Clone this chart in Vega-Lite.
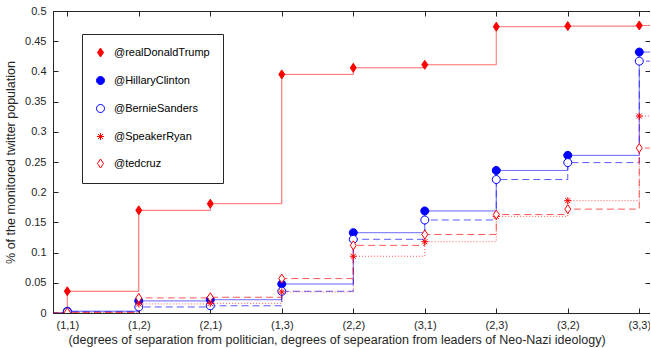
{
  "$schema": "https://vega.github.io/schema/vega-lite/v6.json",
  "autosize": "none",
  "padding": {"left": 53, "top": 11, "right": 0, "bottom": 35},
  "width": 597,
  "height": 302,
  "background": "white",
  "config": {
    "view": {"stroke": "#262626", "strokeWidth": 1},
    "axis": {
      "grid": false,
      "domainColor": "#262626",
      "tickColor": "#262626",
      "labelColor": "#262626",
      "titleColor": "#262626",
      "labelFont": "Liberation Sans",
      "titleFont": "Liberation Sans",
      "labelFontSize": 11,
      "titleFontSize": 12.5,
      "titleFontWeight": "normal",
      "tickSize": -5
    }
  },
  "data": {
    "values": [
      {"series": "@realDonaldTrump", "idx": 0, "value": 0},
      {"series": "@realDonaldTrump", "idx": 1, "value": 0.036},
      {"series": "@realDonaldTrump", "idx": 2, "value": 0.170},
      {"series": "@realDonaldTrump", "idx": 3, "value": 0.181},
      {"series": "@realDonaldTrump", "idx": 4, "value": 0.395},
      {"series": "@realDonaldTrump", "idx": 5, "value": 0.406},
      {"series": "@realDonaldTrump", "idx": 6, "value": 0.411},
      {"series": "@realDonaldTrump", "idx": 7, "value": 0.474},
      {"series": "@realDonaldTrump", "idx": 8, "value": 0.475},
      {"series": "@realDonaldTrump", "idx": 9, "value": 0.476},
      {"series": "@realDonaldTrump", "idx": 10, "value": 0.476},
      {"series": "@HillaryClinton", "idx": 0, "value": 0},
      {"series": "@HillaryClinton", "idx": 1, "value": 0.003},
      {"series": "@HillaryClinton", "idx": 2, "value": 0.020},
      {"series": "@HillaryClinton", "idx": 3, "value": 0.022},
      {"series": "@HillaryClinton", "idx": 4, "value": 0.048},
      {"series": "@HillaryClinton", "idx": 5, "value": 0.133},
      {"series": "@HillaryClinton", "idx": 6, "value": 0.169},
      {"series": "@HillaryClinton", "idx": 7, "value": 0.236},
      {"series": "@HillaryClinton", "idx": 8, "value": 0.261},
      {"series": "@HillaryClinton", "idx": 9, "value": 0.432},
      {"series": "@HillaryClinton", "idx": 10, "value": 0.432},
      {"series": "@BernieSanders", "idx": 0, "value": 0},
      {"series": "@BernieSanders", "idx": 1, "value": 0.002},
      {"series": "@BernieSanders", "idx": 2, "value": 0.010},
      {"series": "@BernieSanders", "idx": 3, "value": 0.012},
      {"series": "@BernieSanders", "idx": 4, "value": 0.036},
      {"series": "@BernieSanders", "idx": 5, "value": 0.122},
      {"series": "@BernieSanders", "idx": 6, "value": 0.154},
      {"series": "@BernieSanders", "idx": 7, "value": 0.221},
      {"series": "@BernieSanders", "idx": 8, "value": 0.249},
      {"series": "@BernieSanders", "idx": 9, "value": 0.417},
      {"series": "@BernieSanders", "idx": 10, "value": 0.417},
      {"series": "@SpeakerRyan", "idx": 0, "value": 0},
      {"series": "@SpeakerRyan", "idx": 1, "value": 0.001},
      {"series": "@SpeakerRyan", "idx": 2, "value": 0.015},
      {"series": "@SpeakerRyan", "idx": 3, "value": 0.016},
      {"series": "@SpeakerRyan", "idx": 4, "value": 0.035},
      {"series": "@SpeakerRyan", "idx": 5, "value": 0.094},
      {"series": "@SpeakerRyan", "idx": 6, "value": 0.118},
      {"series": "@SpeakerRyan", "idx": 7, "value": 0.160},
      {"series": "@SpeakerRyan", "idx": 8, "value": 0.186},
      {"series": "@SpeakerRyan", "idx": 9, "value": 0.326},
      {"series": "@SpeakerRyan", "idx": 10, "value": 0.326},
      {"series": "@tedcruz", "idx": 0, "value": 0},
      {"series": "@tedcruz", "idx": 1, "value": 0.001},
      {"series": "@tedcruz", "idx": 2, "value": 0.025},
      {"series": "@tedcruz", "idx": 3, "value": 0.026},
      {"series": "@tedcruz", "idx": 4, "value": 0.057},
      {"series": "@tedcruz", "idx": 5, "value": 0.112},
      {"series": "@tedcruz", "idx": 6, "value": 0.130},
      {"series": "@tedcruz", "idx": 7, "value": 0.163},
      {"series": "@tedcruz", "idx": 8, "value": 0.172},
      {"series": "@tedcruz", "idx": 9, "value": 0.273},
      {"series": "@tedcruz", "idx": 10, "value": 0.273}
    ]
  },
  "resolve": {"axis": {"x": "independent", "y": "independent"}},
  "layer": [
    {
      "mark": {"type": "line", "interpolate": "step-after", "clip": true, "strokeWidth": 1, "strokeOpacity": 0.65},
      "encoding": {
        "x": {
          "field": "idx", "type": "quantitative",
          "scale": {"domain": [0.8, 9.15], "nice": false, "zero": false},
          "axis": {
            "orient": "bottom",
            "values": [1, 2, 3, 4, 5, 6, 7, 8, 9],
            "labelExpr": "['(1,1)','(1,2)','(2,1)','(1,3)','(2,2)','(3,1)','(2,3)','(3,2)','(3,3)'][datum.value - 1]",
            "labelPadding": 11,
            "labelFlush": false,
            "labelOverlap": false,
            "title": "(degrees of separation from politician, degrees of sepearation from leaders of Neo-Nazi ideology)",
            "titleX": 283.5,
            "titleAnchor": "middle",
            "titlePadding": 3
          }
        },
        "y": {
          "field": "value", "type": "quantitative",
          "scale": {"domain": [0, 0.5], "nice": false},
          "axis": {
            "orient": "left",
            "values": [0, 0.05, 0.1, 0.15, 0.2, 0.25, 0.3, 0.35, 0.4, 0.45, 0.5],
            "format": "~g",
            "labelPadding": 12,
            "labelFlush": false,
            "labelOverlap": false,
            "title": "% of the monitored twitter population",
            "titlePadding": 7
          }
        },
        "stroke": {
          "field": "series", "type": "nominal",
          "scale": {"domain": ["@realDonaldTrump", "@HillaryClinton", "@BernieSanders", "@SpeakerRyan", "@tedcruz"], "range": ["#ff0000", "#0000ff", "#0000ff", "#ff0000", "#ff0000"]}
        },
        "strokeDash": {
          "field": "series", "type": "nominal",
          "sort": ["@realDonaldTrump", "@HillaryClinton", "@BernieSanders", "@SpeakerRyan", "@tedcruz"],
          "scale": {"range": [[1, 0], [1, 0], [7, 4], [1, 2], [7, 4]]},
          "legend": null
        }
      }
    },
    {
      "transform": [{"filter": "datum.idx >= 1 && datum.idx <= 9"}],
      "mark": {"type": "point", "size": 100, "strokeWidth": 1, "opacity": 1, "clip": true},
      "encoding": {
        "x": {
          "field": "idx", "type": "quantitative",
          "axis": {"orient": "top", "values": [1, 2, 3, 4, 5, 6, 7, 8, 9], "labels": false, "title": null, "domain": false}
        },
        "y": {
          "field": "value", "type": "quantitative",
          "axis": {"orient": "right", "values": [0, 0.05, 0.1, 0.15, 0.2, 0.25, 0.3, 0.35, 0.4, 0.45, 0.5], "labels": false, "title": null, "domain": false}
        },
        "stroke": {"field": "series", "type": "nominal"},
        "fill": {
          "field": "series", "type": "nominal",
          "scale": {"domain": ["@realDonaldTrump", "@HillaryClinton", "@BernieSanders", "@SpeakerRyan", "@tedcruz"], "range": ["#ff0000", "#0000ff", "#ffffff", "#ff0000", "#ffffff"]}
        },
        "shape": {
          "field": "series", "type": "nominal",
          "scale": {"domain": ["@realDonaldTrump", "@HillaryClinton", "@BernieSanders", "@SpeakerRyan", "@tedcruz"], "range": [
            "M0,-0.9L0.6,0L0,0.9L-0.6,0Z",
            "M-0.8,0A0.8,0.8,0,1,0,0.8,0A0.8,0.8,0,1,0,-0.8,0Z",
            "M-0.8,0A0.8,0.8,0,1,0,0.8,0A0.8,0.8,0,1,0,-0.8,0Z",
            "M-0.7,0L0.7,0M0,-0.7L0,0.7M-0.5,-0.5L0.5,0.5M-0.5,0.5L0.5,-0.5",
            "M0,-0.9L0.6,0L0,0.9L-0.6,0Z"
          ]},
          "legend": {
            "orient": "none",
            "legendX": 29,
            "legendY": 23,
            "title": null,
            "symbolSize": 100,
            "symbolStrokeWidth": 1,
            "symbolOpacity": 1,
            "labelFont": "Liberation Sans",
            "labelFontSize": 11,
            "labelColor": "#000000",
            "labelOffset": 8,
            "padding": 13,
            "rowPadding": 15,
            "strokeColor": "#262626",
            "fillColor": "#ffffff"
          }
        }
      }
    }
  ]
}
